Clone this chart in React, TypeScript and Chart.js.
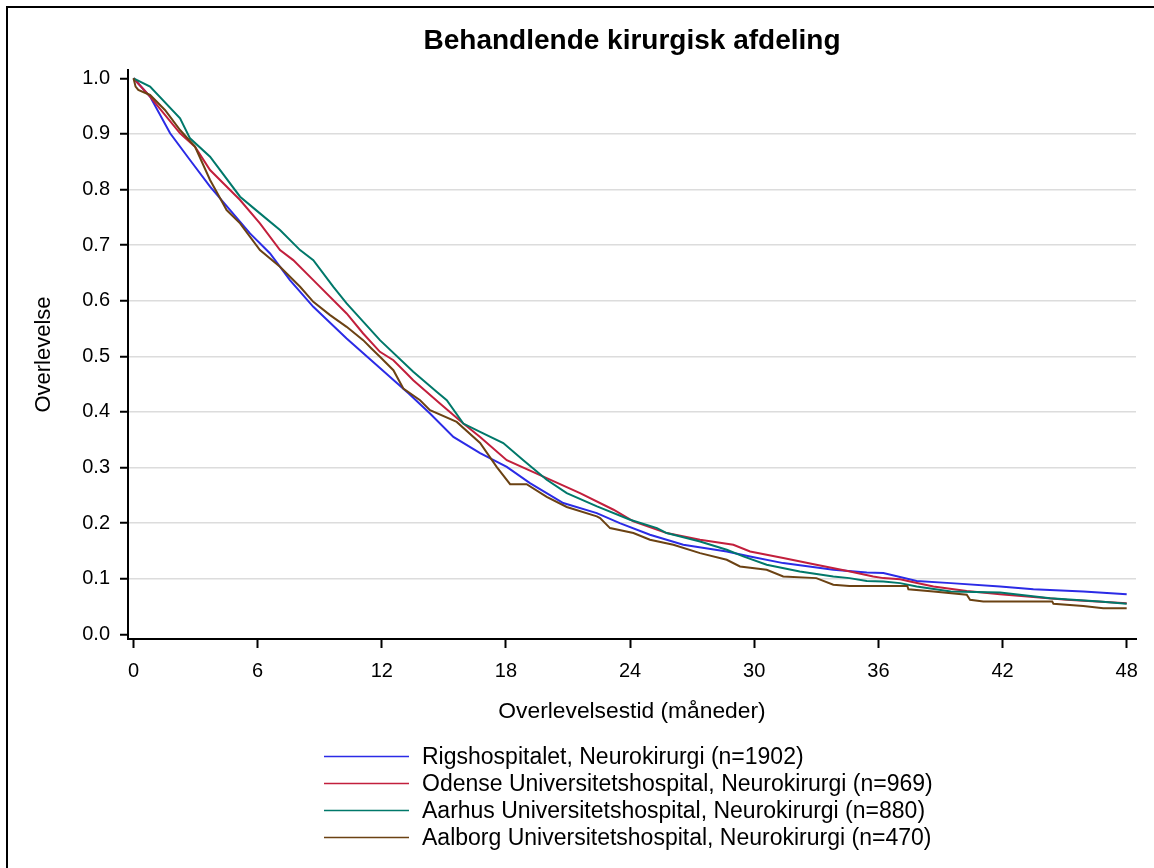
import React, { useEffect, useRef } from 'react';
import { Chart, registerables } from 'chart.js';

Chart.register(...registerables);

const FONT = '"Liberation Sans", Arial, Helvetica, sans-serif';

const TITLE = 'Behandlende kirurgisk afdeling';
const X_TITLE = 'Overlevelsestid (måneder)';
const Y_TITLE = 'Overlevelse';

const SERIES_LABELS = [
  'Rigshospitalet, Neurokirurgi (n=1902)',
  'Odense Universitetshospital, Neurokirurgi (n=969)',
  'Aarhus Universitetshospital, Neurokirurgi (n=880)',
  'Aalborg Universitetshospital, Neurokirurgi (n=470)',
];
const SERIES_COLORS = ['#2b2be6', '#c21f3c', '#00786a', '#6b4213'];

const X_TICKS = [0, 6, 12, 18, 24, 30, 36, 42, 48];
const Y_TICKS = [0.0, 0.1, 0.2, 0.3, 0.4, 0.5, 0.6, 0.7, 0.8, 0.9, 1.0];

// [months, survival]
const RIGSHOSPITALET: [number, number][] = [
  [0, 1.0], [0.8, 0.967], [1.77, 0.901], [2.73, 0.853], [3.7, 0.805], [4.67, 0.763],
  [5.63, 0.721], [6.6, 0.685], [7.56, 0.637], [8.69, 0.589], [10.3, 0.532], [11.91, 0.479],
  [13.3, 0.433], [14.33, 0.397], [15.46, 0.355], [16.75, 0.326], [18.04, 0.301], [19.16, 0.272],
  [20.77, 0.236], [22.39, 0.218], [23.5, 0.2], [24.96, 0.179], [26.57, 0.161], [28.67, 0.149],
  [29.8, 0.14], [31.4, 0.128], [33.82, 0.116], [35.44, 0.111], [36.24, 0.11], [37.85, 0.096],
  [39.5, 0.092], [41.88, 0.086], [43.49, 0.081], [45.9, 0.077], [48, 0.072],
];

const ODENSE: [number, number][] = [
  [0, 1.0], [0.8, 0.967], [2.25, 0.901], [2.97, 0.877], [3.7, 0.835], [5.15, 0.781],
  [6.11, 0.739], [7.08, 0.691], [7.72, 0.673], [8.69, 0.637], [10.3, 0.577], [11.1, 0.541],
  [11.91, 0.508], [12.56, 0.493], [13.2, 0.469], [13.52, 0.457], [14.81, 0.415], [15.94, 0.379],
  [16.75, 0.355], [18.04, 0.313], [19.97, 0.281], [21.58, 0.254], [23.2, 0.224], [24.16, 0.203],
  [25.77, 0.182], [27.38, 0.17], [28.99, 0.161], [29.8, 0.149], [31.4, 0.137], [33.0, 0.125],
  [34.63, 0.113], [35.75, 0.104], [36.24, 0.101], [37.05, 0.099], [37.53, 0.095], [38.66, 0.086],
  [40.27, 0.078], [41.88, 0.072], [43.49, 0.067], [45.1, 0.062], [48, 0.056],
];

const AARHUS: [number, number][] = [
  [0, 1.0], [0.8, 0.985], [2.25, 0.928], [2.73, 0.892], [3.7, 0.859], [5.15, 0.787],
  [6.11, 0.757], [7.08, 0.727], [8.05, 0.691], [8.69, 0.673], [9.66, 0.625], [10.3, 0.595],
  [11.91, 0.529], [13.52, 0.472], [14.65, 0.436], [15.14, 0.421], [15.94, 0.379], [16.75, 0.364],
  [17.87, 0.344], [18.84, 0.313], [19.97, 0.278], [20.94, 0.254], [22.4, 0.23], [24.0, 0.206],
  [25.3, 0.191], [25.77, 0.182], [27.38, 0.167], [28.67, 0.152], [29.47, 0.14], [30.6, 0.125],
  [32.2, 0.113], [33.82, 0.104], [34.6, 0.101], [35.44, 0.096], [36.24, 0.095], [37.05, 0.092],
  [37.85, 0.086], [39.5, 0.077], [41.88, 0.075], [44.3, 0.065], [46.7, 0.059], [48, 0.055],
];

const AALBORG: [number, number][] = [
  [0, 1.0], [0.1, 0.985], [0.23, 0.979], [0.8, 0.97], [1.52, 0.943], [2.25, 0.907],
  [2.97, 0.877], [3.7, 0.817], [4.5, 0.763], [5.15, 0.739], [6.11, 0.691], [7.08, 0.661],
  [8.05, 0.625], [8.69, 0.598], [9.5, 0.574], [10.3, 0.553], [11.1, 0.529], [11.5, 0.514],
  [11.91, 0.499], [12.56, 0.475], [13.04, 0.442], [13.85, 0.421], [14.33, 0.403], [15.62, 0.382],
  [16.75, 0.344], [17.55, 0.301], [18.2, 0.27], [19.0, 0.27], [19.97, 0.247], [20.94, 0.229],
  [22.39, 0.212], [22.55, 0.209], [23.03, 0.191], [24.16, 0.182], [24.96, 0.17], [26.09, 0.161],
  [27.38, 0.146], [28.67, 0.134], [29.31, 0.122], [30.6, 0.116], [31.4, 0.104], [33.0, 0.101],
  [33.82, 0.089], [34.6, 0.087], [37.4, 0.087], [37.45, 0.081], [38.66, 0.077], [40.27, 0.071],
  [40.43, 0.062], [41.07, 0.059], [44.4, 0.059], [44.46, 0.055], [45.9, 0.051], [46.87, 0.047],
  [48, 0.047],
];

const SERIES_DATA = [RIGSHOSPITALET, ODENSE, AARHUS, AALBORG];

const legendAndFrame = {
  id: 'legendAndFrame',
  afterDraw(chart: any) {
    const { ctx, chartArea } = chart;
    ctx.save();
    const x0 = chartArea.left + 196;
    const lineLen = 85;
    const textX = x0 + 98;
    const y0 = chartArea.bottom + 117.5;
    const dy = 27;
    chart.data.datasets.forEach((ds: any, i: number) => {
      const y = y0 + i * dy;
      ctx.strokeStyle = ds.borderColor;
      ctx.lineWidth = 1.6;
      ctx.beginPath();
      ctx.moveTo(x0, y);
      ctx.lineTo(x0 + lineLen, y);
      ctx.stroke();
      ctx.fillStyle = '#000';
      ctx.font = `23px ${FONT}`;
      ctx.textBaseline = 'middle';
      ctx.textAlign = 'left';
      ctx.fillText(ds.label, textX, y + 1);
    });
    ctx.strokeStyle = '#000';
    ctx.lineWidth = 2;
    ctx.beginPath();
    ctx.moveTo(7, chart.height);
    ctx.lineTo(7, 7);
    ctx.lineTo(chart.width, 7);
    ctx.stroke();
    ctx.restore();
  },
};

export default function App() {
  const canvasRef = useRef<HTMLCanvasElement | null>(null);

  useEffect(() => {
    if (!canvasRef.current) return;
    const chart = new Chart(canvasRef.current, {
      type: 'line',
      data: {
        datasets: SERIES_DATA.map((pts, i) => ({
          label: SERIES_LABELS[i],
          data: pts.map(([x, y]) => ({ x, y })),
          borderColor: SERIES_COLORS[i],
          backgroundColor: SERIES_COLORS[i],
          borderWidth: 2,
          pointRadius: 0,
          tension: 0,
          fill: false,
          order: 3 - i,
        })),
      },
      options: {
        responsive: false,
        animation: false,
        layout: { padding: { left: 8, right: 18, top: 8, bottom: 129 } },
        plugins: {
          legend: { display: false },
          tooltip: { enabled: false },
          title: {
            display: true,
            text: TITLE,
            fullSize: false,
            color: '#000',
            font: { family: FONT, size: 28, weight: 'bold', lineHeight: 1.2 },
            padding: { top: 16.2, bottom: 12.2 },
          },
        },
        scales: {
          x: {
            type: 'linear',
            min: -0.266,
            max: 48.45,
            afterFit: (scale: any) => { scale.height = 100; },
            afterBuildTicks: (scale: any) => { scale.ticks = X_TICKS.map((v) => ({ value: v })); },
            ticks: {
              autoSkip: false,
              color: '#000',
              padding: 11,
              font: { family: FONT, size: 20 },
              callback: (v: any) => String(v),
            },
            grid: {
              drawOnChartArea: false,
              drawTicks: true,
              tickLength: 9,
              tickColor: '#000',
              tickWidth: 2,
            },
            border: { display: true, color: '#000', width: 2 },
            title: {
              display: true,
              text: X_TITLE,
              color: '#000',
              font: { family: FONT, size: 22.8, lineHeight: 1.2 },
              padding: { top: 0, bottom: 13.3 },
            },
          },
          y: {
            type: 'linear',
            min: -0.0085,
            max: 1.0149,
            afterFit: (scale: any) => { scale.width = 120; },
            afterBuildTicks: (scale: any) => { scale.ticks = Y_TICKS.map((v) => ({ value: v })); },
            ticks: {
              autoSkip: false,
              color: '#000',
              padding: 10,
              font: { family: FONT, size: 20 },
              callback: (v: any) => Number(v).toFixed(1),
            },
            grid: {
              color: (c: any) => (c.tick && (c.tick.value === 0 || c.tick.value === 1) ? 'rgba(0,0,0,0)' : '#dcdcdc'),
              lineWidth: 1.5,
              drawTicks: true,
              tickLength: 8,
              tickColor: '#000',
              tickWidth: 2,
            },
            border: { display: true, color: '#000', width: 2 },
            title: {
              display: true,
              text: Y_TITLE,
              color: '#000',
              font: { family: FONT, size: 22, lineHeight: 1.2 },
              padding: { top: 22.8, bottom: 0 },
            },
          },
        },
      },
      plugins: [legendAndFrame],
    });
    return () => chart.destroy();
  }, []);

  return (
    <div style={{ position: 'absolute', left: 0, top: 0, width: 1154, height: 868, background: '#fff' }}>
      <canvas ref={canvasRef} width={1154} height={868} style={{ display: 'block' }} />
    </div>
  );
}
